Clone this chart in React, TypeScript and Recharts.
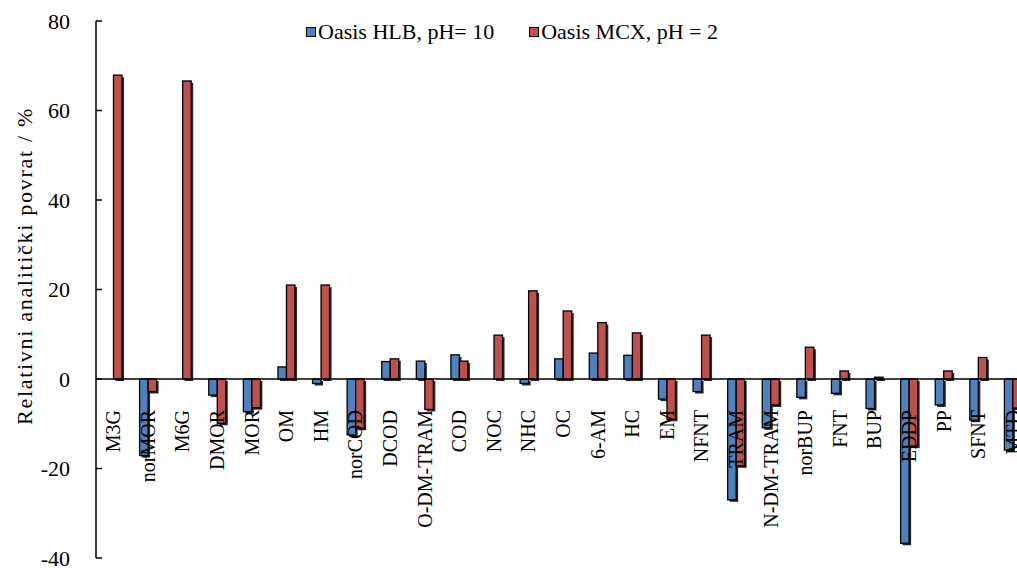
import React from 'react';
import { BarChart, Bar, XAxis, YAxis, ReferenceLine, Legend } from 'recharts';

const categories = ['M3G', 'norMOR', 'M6G', 'DMOR', 'MOR', 'OM', 'HM', 'norCOD', 'DCOD', 'O-DM-TRAM', 'COD', 'NOC', 'NHC', 'OC', '6-AM', 'HC', 'EM', 'NFNT', 'TRAM', 'N-DM-TRAM', 'norBUP', 'FNT', 'BUP', 'EDDP', 'PP', 'SFNT', 'MTD'];
const hlbValues = [0, -17.1, 0, -3.6, -7.3, 2.7, -1.0, -12.5, 3.9, 4.0, 5.4, 0, -1.0, 4.5, 5.8, 5.3, -4.5, -2.8, -27.0, -10.9, -4.1, -3.2, -6.6, -36.7, -5.8, -9.2, -15.9];
const mcxValues = [67.9, -2.8, 66.6, -9.9, -6.4, 21.0, 21.0, -11.0, 4.5, -6.8, 4.0, 9.8, 19.7, 15.2, 12.6, 10.3, -9.0, 9.8, -19.4, -5.8, 7.1, 1.8, 0.4, -15.0, 1.8, 4.8, -6.5];
const yTicks = [-40, -20, 0, 20, 40, 60, 80];
const seriesNames = ['Oasis HLB, pH= 10', 'Oasis MCX, pH = 2'];
const yTitle = 'Relativni analitički povrat / %';

const Y_MIN = -40;
const Y_MAX = 80;
const BLUE = '#4F81BD';
const RED = '#C0504D';
const FONT = '"Liberation Serif", "Times New Roman", serif';

const CHART_W = 1040;
const CHART_H = 571;
const X_AXIS_H = 13;
const MARGIN = { top: 21, right: 10, left: 0, bottom: 0 };
const PLOT_H = CHART_H - MARGIN.top - MARGIN.bottom - X_AXIS_H;

const data = categories.map((name, i) => ({ name, hlb: hlbValues[i], mcx: mcxValues[i] }));

const ShadowBar = (props: any) => {
  const { x, y, width, height, fill } = props;
  const h = Math.abs(height);
  if (!isFinite(h) || h < 0.5) return null;
  const top = height < 0 ? y + height : y;
  return (
    <g>
      <rect x={x + 2} y={top + 2} width={width} height={h} fill="#000" opacity={0.85} />
      <rect x={x} y={top} width={width} height={h} fill={fill} stroke="#000" strokeWidth={1.3} />
    </g>
  );
};

const CategoryTick = (props: any) => {
  const { x, payload } = props;
  const zeroY = MARGIN.top + PLOT_H * (Y_MAX / (Y_MAX - Y_MIN));
  const ty = zeroY + 31;
  return (
    <text
      x={x}
      y={ty}
      transform={`rotate(-90, ${x}, ${ty})`}
      textAnchor="end"
      dominantBaseline="central"
      fontFamily={FONT}
      fontSize={20}
      fill="#000"
    >
      {payload.value}
    </text>
  );
};

const ValueTick = (props: any) => {
  const { x, y, payload } = props;
  return (
    <g>
      <line x1={x} x2={x + 6} y1={y} y2={y} stroke="#000" strokeWidth={1.5} />
      <text x={x - 26} y={y} textAnchor="end" dominantBaseline="central" fontFamily={FONT} fontSize={22} fill="#000">
        {payload.value}
      </text>
    </g>
  );
};

const TitleLabel = (props: any) => {
  const vb = props.viewBox || { x: 0, y: MARGIN.top, width: 96, height: PLOT_H };
  const cx = vb.x + 24;
  const cy = vb.y + vb.height / 2 - 23.5;
  return (
    <text
      x={cx}
      y={cy}
      transform={`rotate(-90, ${cx}, ${cy})`}
      textAnchor="middle"
      dominantBaseline="central"
      fontFamily={FONT}
      fontSize={22}
      letterSpacing={1.7}
      fill="#000"
    >
      {yTitle}
    </text>
  );
};

const LegendContent = (props: any) => {
  const items = props.payload || [];
  return (
    <div style={{ display: 'flex', alignItems: 'center', fontFamily: FONT, fontSize: 22, color: '#000', whiteSpace: 'nowrap', lineHeight: '24px' }}>
      {items.map((it: any, i: number) => (
        <div key={i} style={{ display: 'flex', alignItems: 'center', marginLeft: i === 0 ? 0 : 35 }}>
          <span style={{ display: 'inline-block', width: 8, height: 8, background: it.color, border: '1.5px solid #000', marginRight: 2 }} />
          <span>{it.value}</span>
        </div>
      ))}
    </div>
  );
};

export default function App() {
  return (
    <div style={{ position: 'fixed', left: 0, top: 0, width: 1017, height: 571, overflow: 'hidden', background: '#fff' }}>
      <BarChart width={CHART_W} height={CHART_H} data={data} margin={MARGIN} barGap={0} barSize={8.5}>
        <XAxis dataKey="name" height={X_AXIS_H} axisLine={false} tickLine={false} interval={0} tick={<CategoryTick />} />
        <YAxis
          type="number"
          domain={[Y_MIN, Y_MAX]}
          ticks={yTicks}
          width={96}
          tickSize={0}
          tickMargin={0}
          tickLine={false}
          axisLine={{ stroke: '#000', strokeWidth: 1.5 }}
          tick={<ValueTick />}
          label={(p: any) => <TitleLabel {...p} />}
        />
        <ReferenceLine y={0} stroke="#000" strokeWidth={1.5} />
        <Legend
          layout="horizontal"
          verticalAlign="middle"
          align="center"
          wrapperStyle={{ top: 20, left: 306, width: 460 }}
          content={<LegendContent />}
        />
        <Bar dataKey="hlb" name={seriesNames[0]} fill={BLUE} shape={<ShadowBar />} isAnimationActive={false} />
        <Bar dataKey="mcx" name={seriesNames[1]} fill={RED} shape={<ShadowBar />} isAnimationActive={false} />
      </BarChart>
    </div>
  );
}
